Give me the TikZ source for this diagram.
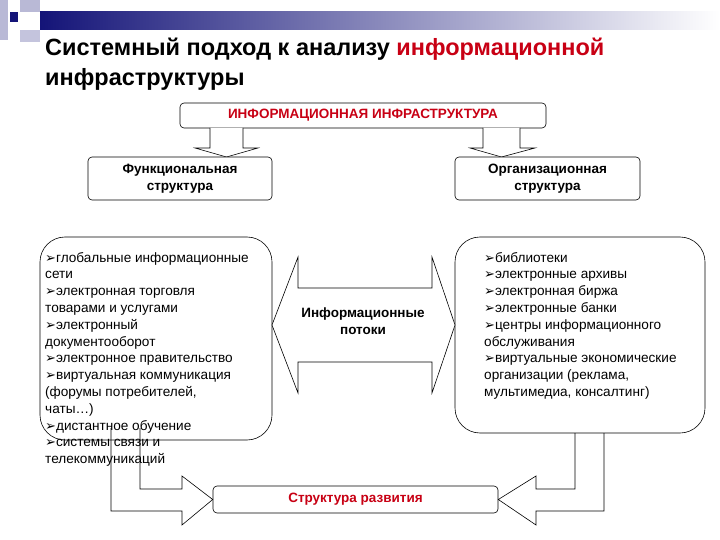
\documentclass[tikz,border=0pt]{standalone}
\usepackage{fontspec}
\setmainfont{Liberation Sans}
\newfontfamily\dv{DejaVu Sans}
\definecolor{dred}{RGB}{200,0,20}
\definecolor{hblue}{RGB}{20,20,120}
\newcommand{\bl}{{\dv\fontsize{13}{13}\selectfont ➢}}
\begin{document}
\begin{tikzpicture}[x=1pt,y=-1pt,
  box/.style={draw,rounded corners=4pt,fill=white,line width=0.6pt},
  big/.style={draw,rounded corners=25pt,line width=0.6pt},
  barrow/.style={draw,fill=white,line width=0.6pt},
  ln/.style={draw,line width=0.6pt},
  txt/.style={font=\fontsize{13.6}{16.8}\selectfont,align=left,anchor=north west,inner sep=0pt}]
\useasboundingbox (0,0) rectangle (720,540);
% header
\shade[left color=hblue,right color=white] (40,12) rectangle (720,30);
\fill[hblue!30] (0,0) rectangle (8,40);
\fill[hblue!30] (20,0) rectangle (40,12);
\fill[hblue!25] (20,30) rectangle (40,42);
\fill[hblue] (10,12) rectangle (18,22);
\node[anchor=base west,inner sep=0pt,font=\fontsize{23.5}{26}\selectfont\bfseries] (t1) at (45,56) {Системный подход к анализу \textcolor{dred}{информационной}};
\node[anchor=base west,inner sep=0pt,font=\fontsize{23.5}{26}\selectfont\bfseries] (t2) at (45,86) {инфраструктуры};
% top box
\node[box,minimum width=366pt,minimum height=25pt,font=\fontsize{13.5}{15}\selectfont\bfseries,text=dred] (top) at (363,115.5) {ИНФОРМАЦИОННАЯ ИНФРАСТРУКТУРА};
% down arrows
\draw[barrow] (210,128)--(210,148)--(195,148)--(226.5,157)--(258,148)--(243,148)--(243,128);
\draw[barrow] (483,128)--(483,148)--(470,148)--(501.5,157)--(535,148)--(520,148)--(520,128);
\node[box,minimum width=184pt,minimum height=43pt,align=center,font=\fontsize{13.5}{17}\selectfont\bfseries] (fun) at (180,178.5) {Функциональная\\структура};
\node[box,minimum width=185pt,minimum height=43pt,align=center,font=\fontsize{13.5}{17}\selectfont\bfseries] (org) at (547.5,178.5) {Организационная\\структура};
% big boxes
\draw[big] (40,237) rectangle (272,440);
\draw[big] (455,237) rectangle (705,433);
\node[txt] (lt) at (45,252) {\bl глобальные информационные\\сети\\\bl электронная торговля\\товарами и услугами\\\bl электронный\\документооборот\\\bl электронное правительство\\\bl виртуальная коммуникация\\(форумы потребителей,\\чаты…)\\\bl дистантное обучение\\\bl системы связи и\\телекоммуникаций};
\node[txt] (rt) at (484,252) {\bl библиотеки\\\bl электронные архивы\\\bl электронная биржа\\\bl электронные банки\\\bl центры информационного\\обслуживания\\\bl виртуальные экономические\\организации (реклама,\\мультимедиа, консалтинг)};
% middle double arrow
\draw[barrow] (272,325)--(298,257)--(298,288)--(432,288)--(432,257)--(455,325)--(432,393)--(432,362)--(298,362)--(298,393)--cycle;
\node[align=center,font=\fontsize{13.5}{17}\selectfont\bfseries] (flow) at (363,321) {Информационные\\потоки};
% bottom
\node[box,minimum width=285pt,minimum height=27pt,font=\fontsize{13.5}{15}\selectfont\bfseries,text=dred] (dev) at (355.5,499.5) {Структура развития};
\draw[ln] (140,428)--(140,489)--(182,489)--(182,476)--(dev.west)--(182,525)--(182,511)--(111,511)--(111,428);
\draw[ln] (575,433)--(575,489)--(536,489)--(536,476)--(dev.east)--(536,525)--(536,511)--(604,511)--(604,433);
\end{tikzpicture}
\end{document}
